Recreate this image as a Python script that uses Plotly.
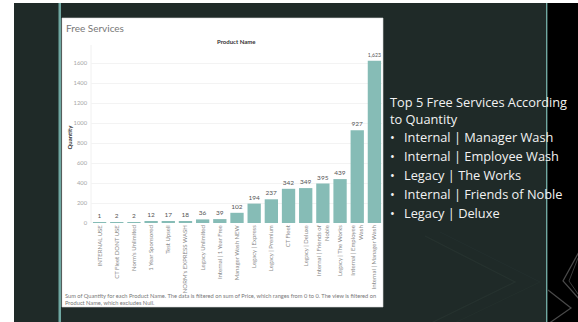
import plotly.graph_objects as go

# Free services by product, sorted ascending by quantity
products = [
    "INTERNAL USE", "CT Fleet DONT USE", "Norm's Unlimited", "1 Year Sponsored",
    "Test Upsell", "NORM's EXPRESS WASH", "Legacy Unlimited", "Internal | 1 Year Free",
    "Manager Wash NEW", "Legacy | Express", "Legacy | Premium", "CT Fleet",
    "Legacy | Deluxe", "Internal | Friends of<br>Noble", "Legacy | The Works",
    "Internal | Employee<br>Wash", "Internal | Manager Wash",
]
quantity = [1, 2, 2, 12, 17, 18, 36, 39, 102, 194, 237, 342, 349, 395, 439, 927, 1623]
y_ticks = [0, 200, 400, 600, 800, 1000, 1200, 1400, 1600]

top5_title = "Top 5 Free Services According<br>to Quantity"
top5 = [
    "Internal | Manager Wash",
    "Internal | Employee Wash",
    "Legacy | The Works",
    "Internal | Friends of Noble",
    "Legacy | Deluxe",
]

caption = ("Sum of Quantity for each Product Name. The data is filtered on sum of Price, "
           "which ranges from 0 to 0. The view is filtered on<br>"
           "Product Name, which excludes Null.")

W, H = 578, 322
ML, MR, MT, MB = 91, 195, 53, 99
PW, PH = W - ML - MR, H - MT - MB


def px(x):
    return (x - ML) / PW


def py(y):
    return (H - MB - y) / PH


BG = "#1f2a28"
TEAL = "#86bcb6"

fig = go.Figure(go.Bar(
    x=products,
    y=quantity,
    marker=dict(color=TEAL, line=dict(width=0)),
    text=[f"{v:,}" for v in quantity],
    textposition="outside",
    textfont=dict(size=6.5, color="#555555", family="Lato"),
    cliponaxis=False,
    hoverinfo="skip",
))

shapes = []


def rect(x0, y0, x1, y1, fill, line_color=None, line_width=0, layer="below"):
    shapes.append(dict(
        type="rect", xref="paper", yref="paper",
        x0=px(x0), x1=px(x1), y0=py(y1), y1=py(y0),
        fillcolor=fill, line=dict(width=line_width, color=line_color or fill),
        layer=layer,
    ))


def seg(points, color, width=1):
    path = "M " + " L ".join(f"{px(a)},{py(b)}" for a, b in points)
    shapes.append(dict(type="path", xref="paper", yref="paper", path=path,
                       line=dict(color=color, width=width), layer="below"))


def note(text, x, y, size, color, xanchor="left", bold=False, angle=0, align="left",
         family="Lato"):
    return dict(text=f"<b>{text}</b>" if bold else text, xref="paper", yref="paper",
                x=px(x), y=py(y), xanchor=xanchor, yanchor="middle", align=align,
                textangle=angle, showarrow=False,
                font=dict(size=size, color=color, family=family))


# slide background, right black strip and accent lines
rect(14, 3, 548, H, BG)
rect(548, 3, W, H, "#000000")
rect(58.5, 3, 61, H, "#6fa8a2")
rect(546, 3, 547.2, H, "#6fa8a2")

# decorative chevrons
seg([(425, 236), (515, 282), (425, 326)], "#26322f", 1.2)
seg([(440, 232), (540, 282), (440, 330)], "#232f2c", 1.0)
seg([(580, 250), (563, 281), (580, 300)], "#4a4a4a", 1.2)
seg([(578, 258), (569, 281), (578, 294)], "#3a3a3a", 1.0)
seg([(548, 290), (571, 308), (548, 324)], "#4a4a4a", 1.2)

# white chart panel
rect(62, 18, 383, 307, "#ffffff", "#d9d9d9", 0.6)
# header divider / axis line
seg([(91, 45), (91, 223)], "#ececec", 0.8)

SIDE_FONT = "Open Sans"
annotations = [
    note("Free Services", 63.5, 27.5, 10, "#777777"),
    note("Product Name", 236.6, 41.7, 6, "#333333", xanchor="center", bold=True),
    note("Quantity", 69, 137.5, 6, "#333333", xanchor="center", bold=True, angle=-90),
    note(caption, 62.5, 299, 5.7, "#777777"),
    note(top5_title, 387.5, 110.5, 12.8, "#f2f2f2", family=SIDE_FONT),
]

for i, name in enumerate(top5):
    yc = 136.7 + i * 19.0
    annotations.append(note("•", 392.7, yc, 12.8, "#f2f2f2", xanchor="center", family=SIDE_FONT))
    annotations.append(note(name, 401.5, yc, 12.8, "#f2f2f2", family=SIDE_FONT))

fig.update_layout(
    width=W, height=H,
    margin=dict(l=ML, r=MR, t=MT, b=MB, pad=0),
    paper_bgcolor="#ffffff",
    plot_bgcolor="rgba(0,0,0,0)",
    showlegend=False,
    bargap=0.225,
    shapes=shapes,
    annotations=annotations,
    xaxis=dict(
        tickangle=-90, tickfont=dict(size=6, color="#8a8a8a", family="Lato"),
        showgrid=False, showline=False, ticks="", zeroline=False, fixedrange=True,
    ),
    yaxis=dict(
        range=[0, 1700], tickvals=y_ticks, tickformat="d",
        tickfont=dict(size=5.8, color="#a6a6a6", family="Lato"),
        showgrid=True, gridcolor="#f3f3f3", gridwidth=0.8, zeroline=False,
        showline=False, ticks="", ticklabelstandoff=3, fixedrange=True,
    ),
)

fig.write_html("out.html")
